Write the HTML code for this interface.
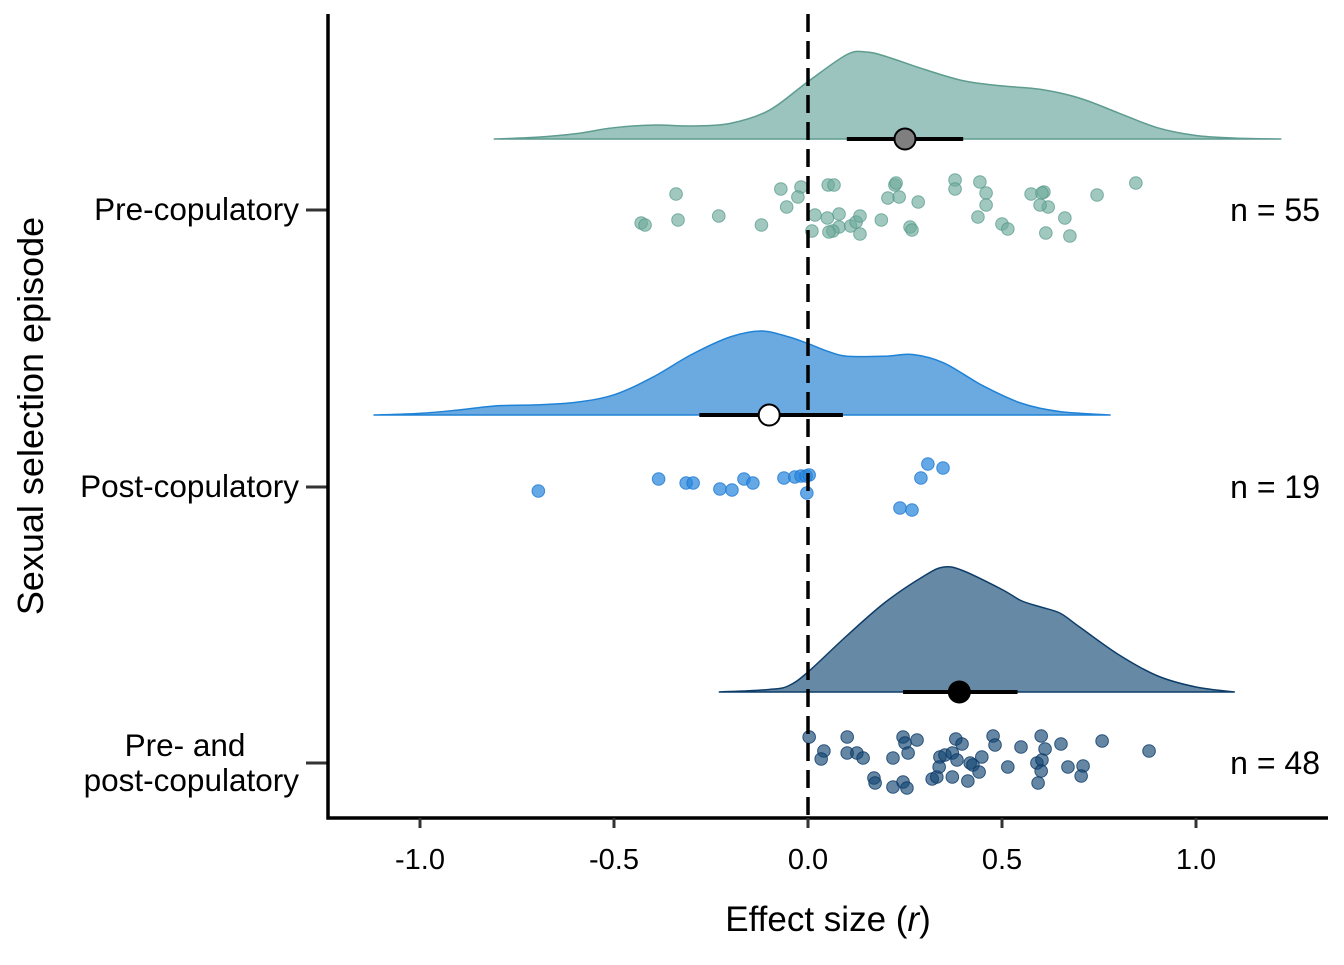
<!DOCTYPE html>
<html><head><meta charset="utf-8"><style>
body{margin:0;background:#fff}
svg text{font-family:"Liberation Sans",sans-serif;fill:#000}
</style></head><body>
<svg id="c" width="1344" height="960"></svg>
<script>
const categories=["Pre-copulatory","Post-copulatory","Pre- and post-copulatory"];
const nLabels=["n = 55","n = 19","n = 48"];
const xTicks=[-1.0,-0.5,0.0,0.5,1.0];
const means=[0.25,-0.10,0.39];
const ciLow=[0.10,-0.28,0.245];
const ciHigh=[0.40,0.09,0.54];
const densPreX=[-0.81,-0.7,-0.6,-0.5,-0.4,-0.3,-0.2,-0.1,0.0,0.1,0.15,0.2,0.3,0.4,0.5,0.6,0.7,0.8,0.9,1.0,1.1,1.22];
const densPreY=[0,0.02,0.06,0.13,0.16,0.15,0.18,0.33,0.66,0.97,1.0,0.95,0.8,0.67,0.61,0.57,0.47,0.3,0.13,0.04,0.01,0];
const densPostX=[-1.12,-1.0,-0.9,-0.8,-0.7,-0.6,-0.5,-0.4,-0.3,-0.2,-0.12,-0.05,0.0,0.05,0.1,0.2,0.27,0.35,0.45,0.55,0.65,0.78];
const densPostY=[0,0.02,0.06,0.11,0.12,0.15,0.24,0.45,0.72,0.93,1.0,0.93,0.85,0.76,0.7,0.7,0.72,0.62,0.35,0.14,0.04,0];
const densBothX=[-0.23,-0.1,-0.05,0.0,0.1,0.2,0.3,0.35,0.4,0.5,0.55,0.6,0.65,0.7,0.8,0.9,1.0,1.1];
const densBothY=[0,0.02,0.05,0.16,0.45,0.72,0.93,1.0,0.97,0.82,0.73,0.68,0.63,0.52,0.3,0.13,0.04,0];
const ptsPre=[-0.34,-0.43,-0.42,-0.335,-0.23,-0.12,-0.07,-0.055,-0.018,0.01,0.018,0.052,0.067,0.05,0.08,0.064,0.08,0.11,0.124,0.134,0.134,0.189,0.206,0.224,0.227,0.235,0.263,0.284,0.268,0.379,0.379,0.443,0.459,0.438,0.459,0.5,0.515,0.575,0.608,0.619,0.613,0.662,0.675,0.745,0.845,0.603,-0.026,0.054,0.598];
const jitPre=[-16,13,15,10,6,15,-21,-3,-23,21,5,-25,-25,8,17,21,4,16,12,6,24,10,-12,-25,-27,-13,17,-8,20,-30,-21,-28,-17,7,-5,14,19,-16,-18,-3,23,8,26,-15,-27,-17,-13,22,-5];
const ptsPost=[-0.695,-0.385,-0.314,-0.296,-0.227,-0.196,-0.165,-0.142,-0.062,-0.034,-0.018,-0.005,0.003,-0.003,0.237,0.268,0.291,0.309,0.348];
const jitPost=[4,-8,-4,-4,2,3,-8,-4,-9,-10,-11,-11,-12,6,21,23,-9,-23,-19];
const ptsBoth=[0.003,0.041,0.034,0.101,0.101,0.126,0.142,0.17,0.173,0.219,0.219,0.245,0.25,0.258,0.281,0.245,0.255,0.32,0.332,0.34,0.353,0.338,0.372,0.372,0.381,0.397,0.384,0.412,0.418,0.425,0.441,0.448,0.477,0.482,0.515,0.549,0.601,0.611,0.59,0.603,0.601,0.593,0.652,0.67,0.709,0.704,0.758,0.879];
const jitBoth=[-26,-12,-4,-26,-10,-10,-5,15,20,24,-5,-26,-20,-10,-23,19,25,16,14,-6,-8,4,14,-10,-24,-19,-3,18,0,2,9,-6,-27,-18,4,-16,-27,-14,0,-3,8,20,-19,4,3,13,-22,-12];
const NS="http://www.w3.org/2000/svg";
const svg=document.getElementById('c');
const X=v=>808+v*388;
const catY=[210,487,763], base=[139,415,692], hMax=[87,84,125];
function mk(t,a,p){const e=document.createElementNS(NS,t);for(const k in a)e.setAttribute(k,a[k]);(p||svg).appendChild(e);return e;}
function smooth(P){
  let d=`M${P[0][0]},${P[0][1]}`;
  for(let i=0;i<P.length-1;i++){
    const p0=P[Math.max(0,i-1)],p1=P[i],p2=P[i+1],p3=P[Math.min(P.length-1,i+2)];
    const c1=[p1[0]+(p2[0]-p0[0])/6,p1[1]+(p2[1]-p0[1])/6];
    const c2=[p2[0]-(p3[0]-p1[0])/6,p2[1]-(p3[1]-p1[1])/6];
    d+=` C${c1[0]},${c1[1]} ${c2[0]},${c2[1]} ${p2[0]},${p2[1]}`;
  }
  return d;
}
const dens=[[densPreX,densPreY],[densPostX,densPostY],[densBothX,densBothY]];
const fills=["#9ac4bd","#6aaae0","#6689a6"],strokes=["#5e9c90","#1f82d6","#0d3d68"];
const ptCol=["rgba(110,170,155,0.65)","rgba(40,135,220,0.72)","rgba(20,70,115,0.65)"],ptStroke=["rgba(80,150,135,0.7)","rgba(30,120,210,0.8)","rgba(10,55,100,0.8)"];
const pts=[[ptsPre,jitPre],[ptsPost,jitPost],[ptsBoth,jitBoth]];
const names=["pre","post","both"];
const meanFill=["#7f7f7f","#ffffff","#000000"];
for(let i=0;i<3;i++){
  const [dx,dy]=dens[i];
  const P=dx.map((v,j)=>[X(v),Math.min(base[i],base[i]-dy[j]*hMax[i])]);
  let d=smooth(P)+'Z';
  const p=mk('path',{d:d,fill:fills[i],stroke:strokes[i],'stroke-width':1.5});
  
  
  const [px,pj]=pts[i];
  px.forEach((v,j)=>{
    const c=mk('circle',{cx:X(v),cy:catY[i]+pj[j],r:6.3,fill:ptCol[i],stroke:ptStroke[i],'stroke-width':1});
    
    
  });
}
const zl=mk('line',{x1:X(0),x2:X(0),y1:14,y2:818,stroke:'#000','stroke-width':3.5,'stroke-dasharray':'18,9'});


for(let i=0;i<3;i++){
  const l=mk('line',{x1:X(ciLow[i]),x2:X(ciHigh[i]),y1:base[i],y2:base[i],stroke:'#000','stroke-width':4});
  
  
  const m=mk('circle',{cx:X(means[i]),cy:base[i],r:10.5,fill:meanFill[i],stroke:'#000','stroke-width':2});
  
  
  const n=mk('text',{x:1320,y:catY[i]+11,'font-size':32,'text-anchor':'end'});
  n.textContent=nLabels[i];
  
  
  const t=mk('line',{x1:306,x2:328,y1:catY[i],y2:catY[i],stroke:'#333','stroke-width':3});
  
  
}
const yl=[["Pre-copulatory"],["Post-copulatory"],["Pre- and","post-copulatory"]];
yl.forEach((ls,i)=>{
  ls.forEach((s,k)=>{
    const t=mk('text',{x:ls.length>1&&k==0?185:299,y:catY[i]+10-(ls.length-1)*17+k*35,'font-size':31.5,'text-anchor':ls.length>1&&k==0?'middle':'end'});
    t.textContent=s;
    
    
  });
});
const ax=mk('path',{d:'M328,14 L328,818 L1328,818',fill:'none',stroke:'#000','stroke-width':3.5});


xTicks.forEach(v=>{
  const t=mk('line',{x1:X(v),x2:X(v),y1:818,y2:828,stroke:'#333','stroke-width':3});
  
  
  const l=mk('text',{x:X(v),y:869,'font-size':29,'text-anchor':'middle'});
  l.textContent=v.toFixed(1);
  
  
});
const xt=mk('text',{x:828,y:931,'font-size':35,'text-anchor':'middle'});
xt.innerHTML='Effect size (<tspan font-style="italic">r</tspan>)';


const yt=mk('text',{x:0,y:0,'font-size':36,'text-anchor':'middle',transform:'translate(43,416) rotate(-90)'});
yt.textContent='Sexual selection episode';


</script>
</body></html>
